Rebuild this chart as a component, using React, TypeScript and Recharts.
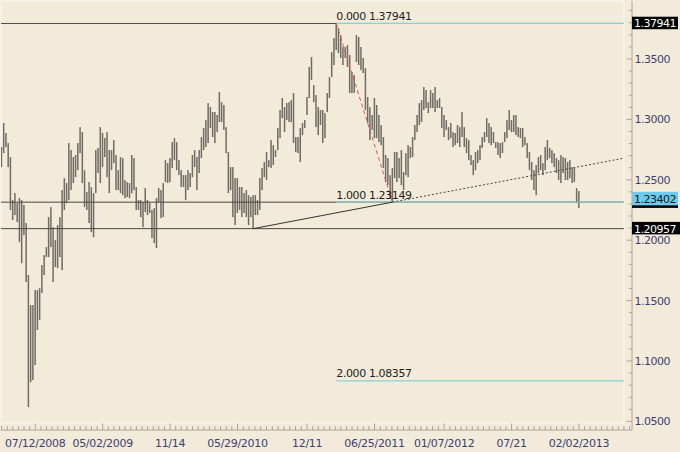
import {
  ComposedChart,
  Bar,
  XAxis,
  YAxis,
  ReferenceLine,
  ReferenceDot,
  ReferenceArea,
} from "recharts"

// weekly high / low
const HIGHS = [
  1.2771, 1.2970, 1.2887, 1.2804, 1.2688, 1.2332, 1.2390, 1.2307, 1.2349, 1.2332,
  1.2291, 1.2142, 1.1711, 1.1463, 1.1463, 1.1587, 1.1587, 1.1603, 1.1794, 1.1877,
  1.1943, 1.2191, 1.2274, 1.2108, 1.2001, 1.2125, 1.2191, 1.2415, 1.2514, 1.2473,
  1.2804, 1.2746, 1.2688, 1.2705, 1.2804, 1.2936, 1.2895, 1.2580, 1.2398, 1.2481,
  1.2440, 1.2390, 1.2746, 1.2763,
  1.2936, 1.2887, 1.2845, 1.2895, 1.2746, 1.2746, 1.2829, 1.2705, 1.2580, 1.2688,
  1.2680, 1.2498, 1.2481, 1.2473, 1.2705, 1.2680, 1.2440, 1.2332, 1.2332, 1.2315,
  1.2431, 1.2332, 1.2307, 1.2250, 1.2266, 1.2349, 1.2431, 1.2415, 1.2473, 1.2663,
  1.2638, 1.2680, 1.2812, 1.2845, 1.2812, 1.2663, 1.2580, 1.2539, 1.2539, 1.2580,
  1.2556, 1.2705, 1.2746, 1.2688,
  1.2746, 1.2854, 1.2928, 1.2994, 1.3135, 1.3102, 1.3061, 1.3061, 1.3036, 1.3226,
  1.3143, 1.3119, 1.2936, 1.2730, 1.2605, 1.2605, 1.2514, 1.2514, 1.2440, 1.2440,
  1.2390, 1.2415, 1.2373, 1.2357, 1.2373, 1.2373, 1.2332, 1.2514, 1.2597, 1.2647,
  1.2730, 1.2663, 1.2829, 1.2787, 1.2746, 1.2928, 1.3078, 1.3177, 1.3102, 1.3135,
  1.3143, 1.3160, 1.3218, 1.2854, 1.2854,
  1.2928, 1.2970, 1.2994, 1.3185, 1.3433, 1.3516, 1.3284, 1.3201, 1.3102, 1.3078,
  1.3078, 1.3052, 1.3218, 1.3350, 1.3557, 1.3673, 1.3794, 1.3756, 1.3698, 1.3599,
  1.3599, 1.3615, 1.3533, 1.3392, 1.3367, 1.3698, 1.3682, 1.3599, 1.3508, 1.3425,
  1.3185, 1.3102, 1.3036, 1.3177, 1.3119, 1.3036, 1.2953, 1.2854, 1.2705, 1.2680,
  1.2539, 1.2597, 1.2730,
  1.2730, 1.2680, 1.2746, 1.2564, 1.2721, 1.2787, 1.2771, 1.2854, 1.2953, 1.3036,
  1.3135, 1.3160, 1.3268, 1.3243, 1.3143, 1.3243, 1.3218, 1.3268, 1.3160, 1.3177,
  1.3102, 1.3036, 1.2994, 1.2936, 1.2970, 1.2895, 1.2887, 1.2953, 1.2936, 1.3061,
  1.2936, 1.2845, 1.2829, 1.2705, 1.2663, 1.2730, 1.2746, 1.2787, 1.2854, 1.2895,
  1.3011, 1.2970, 1.2936,
  1.2895, 1.2812, 1.2812, 1.2804, 1.2812, 1.2895, 1.2994, 1.3078, 1.2994, 1.3036,
  1.3036, 1.2936, 1.2928, 1.2928, 1.2854, 1.2804, 1.2730, 1.2647, 1.2580, 1.2622,
  1.2688, 1.2705, 1.2638, 1.2771, 1.2829, 1.2763, 1.2746, 1.2721, 1.2680, 1.2663,
  1.2705, 1.2688, 1.2680, 1.2647, 1.2663, 1.2605, 1.2597, 1.2431, 1.2407,
]

const LOWS = [
  1.2605, 1.2721, 1.2771, 1.2605, 1.2250, 1.2166, 1.2208, 1.2150, 1.1984, 1.1810,
  1.2042, 1.1653, 1.0618, 1.0825, 1.0842, 1.0966, 1.1256, 1.1338, 1.1562, 1.1711,
  1.1860, 1.1860, 1.1943, 1.1653, 1.1777, 1.1769, 1.1860, 1.1752, 1.2250, 1.2307,
  1.2332, 1.2415, 1.2473, 1.2522, 1.2580, 1.2721, 1.2473, 1.2274, 1.2250, 1.2142,
  1.2067, 1.2026, 1.2390, 1.2556,
  1.2473, 1.2605, 1.2688, 1.2522, 1.2390, 1.2580, 1.2638, 1.2415, 1.2415, 1.2390,
  1.2373, 1.2349, 1.2357, 1.2349, 1.2390, 1.2415, 1.2250, 1.2250, 1.2191, 1.2108,
  1.2233, 1.2208, 1.2225, 1.2017, 1.1976, 1.1935, 1.2315, 1.2183, 1.2191, 1.2481,
  1.2473, 1.2481, 1.2597, 1.2663, 1.2580, 1.2539, 1.2440, 1.2440, 1.2332, 1.2415,
  1.2440, 1.2522, 1.2605, 1.2415,
  1.2556, 1.2680, 1.2746, 1.2771, 1.2804, 1.2928, 1.2854, 1.2804, 1.2895, 1.2978,
  1.2978, 1.2912, 1.2721, 1.2390, 1.2415, 1.2191, 1.2125, 1.2225, 1.2250, 1.2191,
  1.2225, 1.2191, 1.2125, 1.2191, 1.2096, 1.2208, 1.2208, 1.2250, 1.2415, 1.2522,
  1.2498, 1.2605, 1.2597, 1.2622, 1.2688, 1.2746, 1.2845, 1.3011, 1.2895, 1.2994,
  1.2978, 1.2978, 1.2804, 1.2730, 1.2721,
  1.2647, 1.2870, 1.2928, 1.3036, 1.3177, 1.3326, 1.3143, 1.2936, 1.2870, 1.2953,
  1.2804, 1.2845, 1.3061, 1.3177, 1.3350, 1.3450, 1.3574, 1.3549, 1.3508, 1.3450,
  1.3508, 1.3433, 1.3218, 1.3218, 1.3218, 1.3475, 1.3450, 1.3408, 1.3384, 1.3078,
  1.2970, 1.2829, 1.2912, 1.2845, 1.2845, 1.2812, 1.2787, 1.2597, 1.2481, 1.2456,
  1.2349, 1.2315, 1.2514,
  1.2481, 1.2514, 1.2456, 1.2415, 1.2539, 1.2522, 1.2680, 1.2688, 1.2829, 1.2895,
  1.2953, 1.2978, 1.3078, 1.3094, 1.3052, 1.3094, 1.3094, 1.3061, 1.3094, 1.3094,
  1.2928, 1.2854, 1.2912, 1.2829, 1.2845, 1.2771, 1.2787, 1.2804, 1.2771, 1.2854,
  1.2771, 1.2721, 1.2663, 1.2622, 1.2539, 1.2580, 1.2638, 1.2663, 1.2763, 1.2812,
  1.2854, 1.2804, 1.2787,
  1.2804, 1.2763, 1.2705, 1.2680, 1.2721, 1.2812, 1.2845, 1.2912, 1.2895, 1.2895,
  1.2870, 1.2854, 1.2845, 1.2771, 1.2787, 1.2680, 1.2580, 1.2498, 1.2415, 1.2373,
  1.2556, 1.2580, 1.2539, 1.2580, 1.2663, 1.2680, 1.2638, 1.2605, 1.2556, 1.2498,
  1.2473, 1.2556, 1.2498, 1.2498, 1.2514, 1.2473, 1.2481, 1.2307, 1.2266,
]

const DATE_LABELS = [
  "07/12/2008", "05/02/2009", "11/14", "05/29/2010", "12/11",
  "06/25/2011", "01/07/2012", "07/21", "02/02/2013",
]
// bar each date label sits under
const DATE_LABEL_BARS = [15, 45, 75, 105, 136, 166, 197, 227, 257]

// fibonacci swing and trend line anchors
const FIB_HIGH = 1.37941
const FIB_LOW = 1.23149
const FIB_HIGH_BAR = 149
const FIB_LOW_BAR = 174
const FIB_LEVELS = [0, 1, 2]
const SUPPORT = 1.20957
const TREND_START_BAR = 112
const LAST_PRICE = 1.23402

const BG = "#F2EBD9"
const BAR_COLOR = "#6F6C64"
const AXIS = "#A9A499"
const TICK_TEXT = "#3E3E74"
const DARK_LINE = "#4A4845"
const CYAN = "#8AD2D2"
const RED = "#E2564E"
const BLUE_BOX = "#6CCBEF"
const FONT = "DejaVu Sans"

const N = HIGHS.length
const bars = HIGHS.map((h, i) => ({ i, range: [LOWS[i], h] }))

const Y_MAX = 1.39801
const Y_MIN = 1.04288
const PLOT_FLOOR = 1.04867
const X_START = -0.25
const LINE_END = N + 19
const X_END = N + 22.6

const fibValue = (lvl: number) => FIB_HIGH - lvl * (FIB_HIGH - FIB_LOW)
const trendSlope = (FIB_LOW - SUPPORT) / (FIB_LOW_BAR - TREND_START_BAR)
const trendEnd = FIB_LOW + trendSlope * (LINE_END - FIB_LOW_BAR)

// x ticks: 12 minor steps between date labels
const labelAt = new Map<number, string>()
DATE_LABEL_BARS.forEach((b, k) => labelAt.set(b, DATE_LABELS[k]))
const xTicks: number[] = []
const firstStep = (DATE_LABEL_BARS[1] - DATE_LABEL_BARS[0]) / 12
for (let t = DATE_LABEL_BARS[0] - firstStep; t >= X_START; t -= firstStep) xTicks.push(t)
DATE_LABEL_BARS.forEach((b, k) => {
  const next = DATE_LABEL_BARS[k + 1]
  if (next !== undefined) {
    const step = (next - b) / 12
    for (let j = 0; j < 12; j++) xTicks.push(b + j * step)
  } else {
    for (let t = b; t <= X_END; t += firstStep) xTicks.push(t)
  }
})
xTicks.sort((a, b) => a - b)

const yTicks = Array.from({ length: 35 }, (_, k) => Math.round((1.05 + k * 0.01) * 100) / 100)

function HiLoBar(props: any) {
  const { x, y, width, height } = props
  if (x == null || y == null) return null
  const cx = x + width / 2
  const top = Math.min(y, y + height)
  return <rect x={cx - 0.75} y={top} width={1.5} height={Math.max(Math.abs(height), 1)} fill={BAR_COLOR} />
}

function XTick(props: any) {
  const { x, y, payload } = props
  const label = labelAt.get(payload.value)
  return (
    <g>
      <line x1={x} x2={x} y1={y - (label ? 6.5 : 4)} y2={y} stroke={AXIS} />
      {label && (
        <text x={x} y={y + 17} textAnchor="middle" fontFamily={FONT} fontSize={11}
          letterSpacing={-0.3} fill={TICK_TEXT}>
          {label}
        </text>
      )}
    </g>
  )
}

function YTick(props: any) {
  const { x, y, payload } = props
  const major = Math.round(payload.value * 100) % 5 === 0
  return (
    <g>
      <line x1={x - (major ? 5.5 : 3)} x2={x} y1={y} y2={y} stroke={AXIS} />
      {major && (
        <text x={x + 2.5} y={y + 4} fontFamily={FONT} fontSize={11} letterSpacing={-0.5} fill={TICK_TEXT}>
          {payload.value.toFixed(4)}
        </text>
      )}
    </g>
  )
}

const priceBox = (value: number, fill: string, color: string, h: number, w = 46, showText = true) =>
  (p: any) => (
    <g>
      <rect x={p.cx} y={p.cy - h / 2 - 0.5} width={w} height={h} fill={fill} />
      {showText && (
        <text x={p.cx + 2} y={p.cy + 4} fontFamily={FONT} fontSize={11} letterSpacing={-0.5} fill={color}>
          {value.toFixed(5)}
        </text>
      )}
    </g>
  )

export default function App() {
  return (
    <div style={{ position: "absolute", left: 0, top: 0, width: 680, height: 452, background: BG }}>
      <ComposedChart width={680} height={452} data={bars} margin={{ top: 1, left: 1, right: 0, bottom: 0 }}>
        <XAxis
          type="number"
          dataKey="i"
          domain={[X_START, X_END]}
          allowDataOverflow
          ticks={xTicks}
          interval={0}
          tick={(p: any) => <XTick {...p} />}
          tickLine={false}
          tickSize={0}
          tickMargin={0}
          height={22}
          axisLine={{ stroke: AXIS }}
        />
        <YAxis
          orientation="right"
          type="number"
          domain={[Y_MIN, Y_MAX]}
          allowDataOverflow
          ticks={yTicks}
          interval={0}
          tick={(p: any) => <YTick {...p} />}
          tickLine={false}
          tickSize={0}
          tickMargin={0}
          width={48}
          axisLine={{ stroke: AXIS }}
        />
        <ReferenceArea x1={X_START} x2={LINE_END} y1={PLOT_FLOOR} y2={Y_MAX}
          fill="none" stroke="#FCFAF4" strokeOpacity={1} />
        <Bar dataKey="range" barSize={2} shape={(p: any) => <HiLoBar {...p} />} isAnimationActive={false} />

        {[FIB_HIGH, FIB_LOW, SUPPORT].map((v) => (
          <ReferenceLine key={"d" + v} segment={[{ x: X_START, y: v }, { x: LINE_END, y: v }]}
            stroke={DARK_LINE} strokeWidth={1} />
        ))}
        {FIB_LEVELS.map((lvl) => (
          <ReferenceLine key={"f" + lvl}
            segment={[{ x: FIB_HIGH_BAR, y: fibValue(lvl) }, { x: LINE_END, y: fibValue(lvl) }]}
            stroke={CYAN} strokeWidth={1.2} />
        ))}
        {FIB_LEVELS.map((lvl) => (
          <ReferenceDot key={"l" + lvl} x={FIB_HIGH_BAR} y={fibValue(lvl)} r={1}
            shape={(p: any) => (
              <text x={p.cx} y={p.cy - 3.5} fontFamily={FONT} fontSize={11} letterSpacing={-0.4} fill="#1E1E1E">
                {`${lvl.toFixed(3)} ${fibValue(lvl).toFixed(5)}`}
              </text>
            )} />
        ))}

        <ReferenceLine segment={[{ x: FIB_HIGH_BAR, y: FIB_HIGH }, { x: FIB_LOW_BAR, y: FIB_LOW }]}
          stroke={RED} strokeDasharray="4 3" />
        <ReferenceLine segment={[{ x: TREND_START_BAR, y: SUPPORT }, { x: FIB_LOW_BAR, y: FIB_LOW }]}
          stroke="#333" />
        <ReferenceLine segment={[{ x: FIB_LOW_BAR, y: FIB_LOW }, { x: LINE_END, y: trendEnd }]}
          stroke="#444" strokeDasharray="2 2" />

        <ReferenceDot x={X_END} y={FIB_HIGH} r={1} ifOverflow="visible"
          shape={priceBox(FIB_HIGH, "#000", "#fff", 12.5)} />
        {/* 1.23149 box sits behind the last-price box; only its lower edge shows */}
        <ReferenceDot x={X_END} y={FIB_LOW} r={1} ifOverflow="visible"
          shape={priceBox(FIB_LOW, "#000", "#fff", 12.5, 46, false)} />
        <ReferenceDot x={X_END} y={LAST_PRICE} r={1} ifOverflow="visible"
          shape={priceBox(LAST_PRICE, BLUE_BOX, "#1A1A1A", 13.5)} />
        <ReferenceDot x={X_END} y={SUPPORT} r={1} ifOverflow="visible"
          shape={priceBox(SUPPORT, "#000", "#fff", 12.5, 48)} />
      </ComposedChart>
    </div>
  )
}
